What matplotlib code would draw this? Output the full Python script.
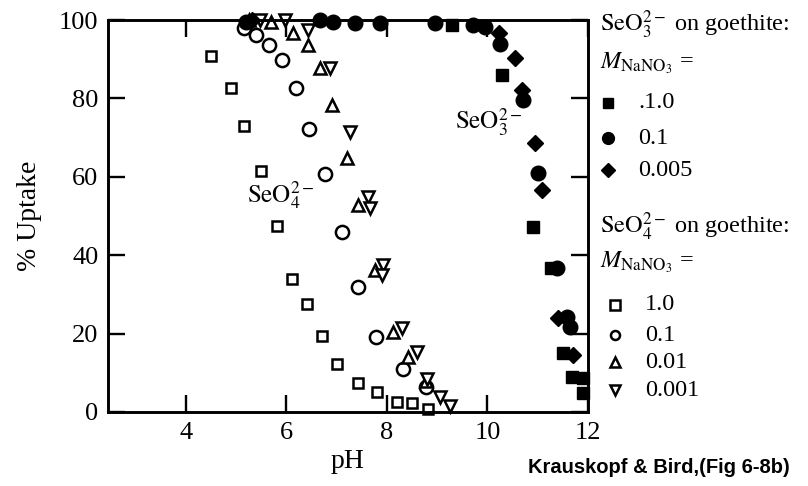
import matplotlib
matplotlib.use("Agg")
import matplotlib.pyplot as plt
from matplotlib.lines import Line2D

plt.rcParams['font.family'] = 'Liberation Serif'
plt.rcParams['mathtext.fontset'] = 'stix'

# SeO3 2- on goethite (filled markers)
se3_sq_ph = [9.29, 10.28, 10.91, 11.26, 11.51, 11.68, 11.91, 11.91]
se3_sq_up = [98.7, 86.0, 47.3, 36.7, 15.0, 9.0, 8.6, 4.8]
se3_ci_ph = [5.20, 6.67, 6.93, 7.36, 7.86, 8.96, 9.72, 9.95, 10.25, 10.71, 11.01, 11.38, 11.58, 11.64]
se3_ci_up = [99.5, 100, 99.5, 99.3, 99.3, 99.2, 98.7, 98.3, 94.0, 79.6, 60.9, 36.7, 24.3, 21.8]
se3_di_ph = [5.32, 10.22, 10.55, 10.68, 10.95, 11.08, 11.41, 11.71]
se3_di_up = [100, 96.6, 90.2, 82.1, 68.5, 56.6, 23.9, 14.5]

# SeO4 2- on goethite (open markers)
se4_sq_ph = [4.49, 4.89, 5.15, 5.49, 5.82, 6.11, 6.40, 6.70, 7.00, 7.42, 7.80, 8.19, 8.49, 8.82]
se4_sq_up = [90.8, 82.7, 73.0, 61.6, 47.4, 33.9, 27.5, 19.5, 12.2, 7.4, 5.2, 2.6, 2.4, 0.7]
se4_ci_ph = [5.15, 5.39, 5.65, 5.92, 6.20, 6.45, 6.77, 7.10, 7.43, 7.78, 8.31, 8.77]
se4_ci_up = [97.9, 96.2, 93.6, 89.8, 82.6, 72.2, 60.7, 46.0, 32.0, 19.2, 11.0, 6.3]
se4_tu_ph = [5.25, 5.70, 6.14, 6.43, 6.67, 6.90, 7.20, 7.43, 7.76, 8.13, 8.42, 8.78]
se4_tu_up = [100, 99.5, 96.6, 93.6, 87.7, 78.3, 64.7, 52.8, 36.2, 20.5, 14.1, 8.0]
se4_td_ph = [5.47, 5.97, 6.43, 6.87, 7.26, 7.63, 7.66, 7.92, 7.90, 8.29, 8.59, 8.80, 9.05, 9.25]
se4_td_up = [100, 100, 97.4, 87.7, 71.5, 54.9, 52.0, 37.5, 35.0, 21.3, 15.4, 8.5, 3.9, 1.5]

fig = plt.figure(figsize=(8.08, 4.86), dpi=100)
ax = fig.add_axes([0.1337, 0.1523, 0.594, 0.8065])

ok = dict(linestyle='none', color='black', clip_on=False)
opn = dict(ok, markerfacecolor='white', markeredgewidth=1.8)
ax.plot(se4_sq_ph, se4_sq_up, marker='s', markersize=7.5, **opn)
ax.plot(se4_ci_ph, se4_ci_up, marker='o', markersize=9.5, **opn)
ax.plot(se4_tu_ph, se4_tu_up, marker='^', markersize=8.5, **opn)
ax.plot(se4_td_ph, se4_td_up, marker='v', markersize=8.5, **opn)
ax.plot(se3_sq_ph, se3_sq_up, marker='s', markersize=9, **ok)
ax.plot(se3_ci_ph, se3_ci_up, marker='o', markersize=10.5, **ok)
ax.plot(se3_di_ph, se3_di_up, marker='D', markersize=8, **ok)

ax.set_xlim(2.45, 12)
ax.set_ylim(0, 100)
ax.set_xticks([4, 6, 8, 10, 12])
ax.set_yticks([0, 20, 40, 60, 80, 100])
ax.tick_params(direction='in', length=12.5, width=1.7, top=True, right=True,
               labelsize=19, pad=7)
for s in ax.spines.values():
    s.set_linewidth(2.1)
ax.set_xlabel('pH', fontsize=20, labelpad=4)
ax.set_ylabel('% Uptake', fontsize=20, labelpad=12)

ax.text(5.22, 55.4, r'$\mathrm{SeO}_4^{2-}$', fontsize=18, va='center')
ax.text(9.35, 74, r'$\mathrm{SeO}_3^{2-}$', fontsize=18, va='center')

# key on the right
def fy(py):
    return 1 - py / 486.0

fs = 17.5
fig.text(600 / 808, fy(25), r'$\mathrm{SeO}_3^{2-}$ on goethite:', fontsize=fs, va='center')
fig.text(600 / 808, fy(63), r'$M_{\mathrm{NaNO}_3}$ =', fontsize=fs, va='center')
key3 = [('s', '.1.0', 103, 7.5), ('o', '0.1', 138, 8.5), ('D', '0.005', 170, 7)]
for m, lab, py, ms in key3:
    fig.add_artist(Line2D([608 / 808], [fy(py)], marker=m, markersize=ms, color='black',
                          linestyle='none', transform=fig.transFigure))
    fig.text(638 / 808, fy(py), lab, fontsize=fs, va='center')

fig.text(600 / 808, fy(227), r'$\mathrm{SeO}_4^{2-}$ on goethite:', fontsize=fs, va='center')
fig.text(600 / 808, fy(262), r'$M_{\mathrm{NaNO}_3}$ =', fontsize=fs, va='center')
key4 = [('s', '1.0', 305), ('o', '0.1', 335), ('^', '0.01', 362), ('v', '0.001', 390)]
for m, lab, py in key4:
    fig.add_artist(Line2D([615 / 808], [fy(py)], marker=m, markersize=6.5, color='black',
                          markerfacecolor='white', markeredgewidth=1.8,
                          linestyle='none', transform=fig.transFigure))
    fig.text(645 / 808, fy(py), lab, fontsize=fs, va='center')

fig.text(790 / 808, fy(467), 'Krauskopf & Bird,(Fig 6-8b)', fontsize=14.5,
         family='Liberation Sans', weight='bold', ha='right', va='center')

fig.savefig('out.png', dpi=100)
